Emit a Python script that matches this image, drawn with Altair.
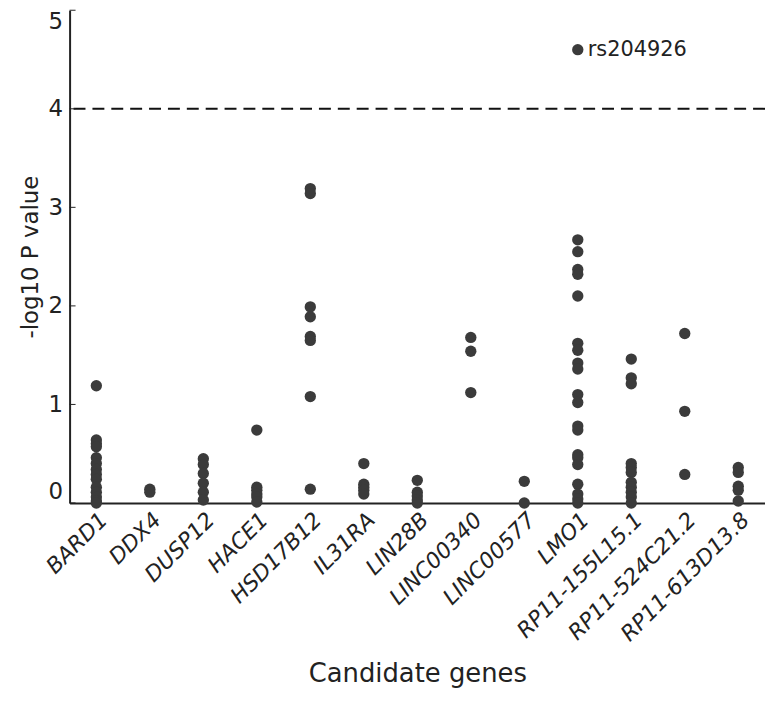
import altair as alt
import pandas as pd

genes = ["BARD1", "DDX4", "DUSP12", "HACE1", "HSD17B12", "IL31RA", "LIN28B",
         "LINC00340", "LINC00577", "LMO1", "RP11-155L15.1", "RP11-524C21.2",
         "RP11-613D13.8"]

bard1 = [1.19, 0.64, 0.60, 0.57, 0.46, 0.40, 0.34, 0.29, 0.24, 0.16, 0.11, 0.06, 0.02, 0.0]
ddx4 = [0.14, 0.11]
dusp12 = [0.45, 0.39, 0.30, 0.20, 0.11, 0.03]
hace1 = [0.74, 0.16, 0.13, 0.09, 0.06, 0.01]
hsd17b12 = [3.19, 3.14, 1.99, 1.89, 1.69, 1.65, 1.08, 0.14]
il31ra = [0.40, 0.19, 0.16, 0.13, 0.09]
lin28b = [0.23, 0.11, 0.07, 0.03, 0.0]
linc00340 = [1.68, 1.54, 1.12]
linc00577 = [0.22, 0.0]
lmo1 = [4.6, 2.67, 2.55, 2.37, 2.32, 2.10, 1.62, 1.55, 1.42, 1.36, 1.10, 1.02,
        0.78, 0.74, 0.49, 0.46, 0.39, 0.19, 0.09, 0.04, 0.0]
rp11_155l15 = [1.46, 1.27, 1.21, 0.40, 0.36, 0.31, 0.21, 0.16, 0.11, 0.06, 0.0]
rp11_524c21 = [1.72, 0.93, 0.29]
rp11_613d13 = [0.36, 0.31, 0.17, 0.13, 0.02]

series = [bard1, ddx4, dusp12, hace1, hsd17b12, il31ra, lin28b, linc00340,
          linc00577, lmo1, rp11_155l15, rp11_524c21, rp11_613d13]

y_ticks = [0, 1, 2, 3, 4, 5]
threshold = [4]
snp_gene = ["LMO1"]
snp_value = [4.6]
snp_label = ["rs204926"]

df = pd.DataFrame([{"gene": g, "p": v} for g, vs in zip(genes, series) for v in vs])
ticks_df = pd.DataFrame({"t": y_ticks})
thr_df = pd.DataFrame({"y": threshold})
snp_df = pd.DataFrame({"gene": snp_gene, "p": snp_value, "label": snp_label})

FONT = "DejaVu Sans"
INK = "#222222"

x_enc = alt.X(
    "gene:N", sort=genes,
    axis=alt.Axis(title="Candidate genes", labelAngle=315, labelFontStyle="italic",
                  labelFontSize=22, titleFontSize=26, ticks=False, domainWidth=2,
                  domainColor=INK, labelColor=INK, titleColor=INK,
                  labelPadding=6, titlePadding=16, titleFontWeight="normal",
                  labelFont=FONT, titleFont=FONT),
)
y_scale = alt.Scale(domain=[0, 5], nice=False, zero=True)
y_enc = alt.Y(
    "p:Q", scale=y_scale,
    axis=alt.Axis(title="-log10 P value", values=y_ticks, format="d", tickSize=0,
                  labelFlush=True, labelFontSize=23, titleFontSize=23, grid=False,
                  domainWidth=2, domainColor=INK, labelColor=INK, titleColor=INK,
                  labelPadding=7, titlePadding=6, titleFontWeight="normal",
                  labelFont=FONT, titleFont=FONT),
)

points = alt.Chart(df).mark_circle(size=130, color="#3b3b3b", opacity=1).encode(x=x_enc, y=y_enc)

tick_marks = alt.Chart(ticks_df).mark_rule(color=INK, strokeWidth=1).encode(
    y=alt.Y("t:Q", scale=y_scale), x=alt.value(0), x2=alt.value(6))

thr = alt.Chart(thr_df).mark_rule(color="#111111", strokeWidth=2, strokeDash=[12, 7]).encode(
    y=alt.Y("y:Q", scale=y_scale))

label = alt.Chart(snp_df).mark_text(align="left", baseline="middle", dx=10, fontSize=21,
                                    font=FONT, color=INK).encode(
    x=alt.X("gene:N", sort=genes), y=alt.Y("p:Q", scale=y_scale), text="label:N")

chart = alt.layer(thr, tick_marks, points, label).properties(
    width=700, height=496,
    autosize=alt.AutoSizeParams(type="none"),
    padding={"left": 62, "top": 0, "right": 0, "bottom": 188},
).configure_view(stroke=None)

chart.save("out.html", embed_options={"renderer": "svg", "actions": False})
